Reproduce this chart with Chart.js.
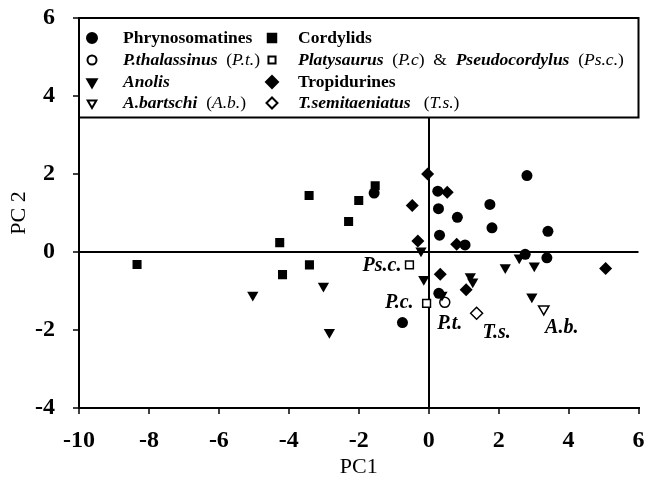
<!DOCTYPE html>
<html>
<head>
<meta charset="utf-8">
<script src="https://cdn.jsdelivr.net/npm/chart.js@4.4.1/dist/chart.umd.min.js"></script>
<style>
  html, body { margin: 0; padding: 0; background: #fff; }
  #wrap { width: 646px; height: 498px; }
</style>
</head>
<body>
<div id="wrap"><canvas id="graficoPCA"></canvas></div>
<script>
// eixos
const xTicks = [-10, -8, -6, -4, -2, 0, 2, 4, 6];
const yTicks = [-4, -2, 0, 2, 4, 6];

// grupos (PC1 / PC2)
const phrynoPC1 = [2.81, -1.56, 0.26, 1.75, 0.28, 0.82, 1.81, 3.41, 0.31, 1.04, 2.76, 3.38, 0.29, -0.75];
const phrynoPC2 = [1.96, 1.51, 1.56, 1.22, 1.11, 0.89, 0.62, 0.53, 0.43, 0.18, -0.06, -0.15, -1.06, -1.81];

const cordylidPC1 = [-1.53, -3.42, -2.0, -2.29, -4.26, -8.34, -3.41, -4.18];
const cordylidPC2 = [1.70, 1.45, 1.32, 0.78, 0.24, -0.32, -0.33, -0.58];

const tropiPC1 = [-0.03, 0.53, -0.47, -0.31, 0.8, 0.33, 5.06, 1.07];
const tropiPC2 = [2.0, 1.53, 1.19, 0.28, 0.2, -0.57, -0.42, -0.97];

const anolisPC1 = [-5.03, -3.01, -2.84, -0.22, -0.14, 1.19, 1.26, 2.19, 2.59, 3.02, 2.95, 0.38];
const anolisPC2 = [-1.10, -0.87, -2.06, 0.03, -0.70, -0.63, -0.76, -0.40, -0.15, -0.35, -1.15, -1.10];

// especies destacadas
const ptPC1 = [0.46];
const ptPC2 = [-1.29];
const platyPC1 = [-0.06, -0.55];
const platyPC2 = [-1.32, -0.33];
const platyLabels = ['P.c.', 'Ps.c.'];
const tsPC1 = [1.37];
const tsPC2 = [-1.57];
const abPC1 = [3.29];
const abPC2 = [-1.46];

const toPoints = (xs, ys) => xs.map((x, i) => ({ x: x, y: ys[i] }));

const SERIF = '"Liberation Serif", "Times New Roman", serif';

// legenda desenhada a mao (fontes mistas)
const legendaPlugin = {
  id: 'legenda',
  afterDraw(chart) {
    const ctx = chart.ctx;
    const xs = chart.scales.x, ys = chart.scales.y;
    const left = xs.left, right = xs.right;
    const top = ys.getPixelForValue(6);
    const bottom = ys.getPixelForValue(3.45);
    ctx.save();
    ctx.fillStyle = '#fff';
    ctx.fillRect(left + 1, top, right - left, bottom - top);
    ctx.strokeStyle = '#000';
    ctx.lineWidth = 2;
    ctx.beginPath();
    ctx.moveTo(left, top); ctx.lineTo(right, top);
    ctx.lineTo(right, bottom); ctx.lineTo(left, bottom);
    ctx.stroke();

    const B = 'bold 17.5px ' + SERIF, BI = 'italic bold 17.5px ' + SERIF;
    const I = 'italic 17.5px ' + SERIF, R = '17.5px ' + SERIF;
    const rows = [
      [{ pointStyle: 'circle', radius: 5, fill: '#000' }, [['Phrynosomatines', B]]],
      [{ pointStyle: 'circle', radius: 4.5, fill: '#fff' }, [['P.thalassinus', BI], ['  (', R], ['P.t.', I], [')', R]]],
      [{ pointStyle: 'triangle', radius: 5.5, rotation: 180, fill: '#000' }, [['Anolis', BI]]],
      [{ pointStyle: 'triangle', radius: 5, rotation: 180, fill: '#fff' }, [['A.bartschi', BI], ['  (', R], ['A.b.', I], [')', R]]],
      [{ pointStyle: 'rect', radius: 6, fill: '#000' }, [['Cordylids', B]]],
      [{ pointStyle: 'rect', radius: 5, fill: '#fff' }, [['Platysaurus', BI], ['  (', R], ['P.c', I], [')', R], ['  &  ', R], ['Pseudocordylus', BI], ['  (', R], ['Ps.c.', I], [')', R]]],
      [{ pointStyle: 'rectRot', radius: 6, fill: '#000' }, [['Tropidurines', B]]],
      [{ pointStyle: 'rectRot', radius: 5.5, fill: '#fff' }, [['T.semitaeniatus', BI], ['   (', R], ['T.s.', I], [')', R]]]
    ];
    const rowY = [38, 60, 82, 103];
    const colMarker = [left + 13, left + 193];
    const colText = [left + 44, left + 219];
    ctx.textBaseline = 'middle';
    rows.forEach((r, i) => {
      const col = Math.floor(i / 4), y = rowY[i % 4];
      ctx.fillStyle = r[0].fill;
      ctx.strokeStyle = '#000';
      Chart.helpers.drawPoint(ctx, { pointStyle: r[0].pointStyle, radius: r[0].radius, rotation: r[0].rotation || 0, borderWidth: 1.3 }, colMarker[col], y);
      let x = colText[col];
      ctx.fillStyle = '#000';
      r[1].forEach(seg => {
        ctx.font = seg[1];
        ctx.fillText(seg[0], x, y);
        x += ctx.measureText(seg[0]).width;
      });
    });
    ctx.restore();
  }
};

// rotulos das especies destacadas
const rotulosPlugin = {
  id: 'rotulos',
  afterDatasetsDraw(chart) {
    const ctx = chart.ctx;
    ctx.save();
    ctx.font = 'italic bold 20px ' + SERIF;
    ctx.fillStyle = '#000';
    ctx.textBaseline = 'middle';
    const put = (di, pi, text, dx, dy, align) => {
      const p = chart.getDatasetMeta(di).data[pi];
      ctx.textAlign = align;
      ctx.fillText(text, p.x + dx, p.y + dy);
    };
    put(5, 0, platyLabels[0], -13, -1, 'right');
    put(5, 1, platyLabels[1], -8, 1, 'right');
    put(4, 0, 'P.t.', 5, 22, 'center');
    put(6, 0, 'T.s.', 20, 20, 'center');
    put(7, 0, 'A.b.', 18, 19, 'center');
    ctx.restore();
  }
};

const zeroLine = ctx => (ctx.tick && ctx.tick.value === 0) ? '#000' : 'rgba(0,0,0,0)';

// tira o recuo automatico das escalas, para a area do grafico ficar fixa
const semRecuo = s => {
  s.paddingTop = 0; s.paddingBottom = 0; s.paddingLeft = 0; s.paddingRight = 0;
};

new Chart(document.getElementById('graficoPCA').getContext('2d'), {
  type: 'scatter',
  data: {
    datasets: [
      { label: 'Cordylids', data: toPoints(cordylidPC1, cordylidPC2), pointStyle: 'rect', radius: 6.4, backgroundColor: '#000', borderColor: '#000', borderWidth: 0 },
      { label: 'Anolis', data: toPoints(anolisPC1, anolisPC2), pointStyle: 'triangle', rotation: 180, radius: 6.5, backgroundColor: '#000', borderColor: '#000', borderWidth: 0 },
      { label: 'Tropidurines', data: toPoints(tropiPC1, tropiPC2), pointStyle: 'rectRot', radius: 6.5, backgroundColor: '#000', borderColor: '#000', borderWidth: 0 },
      { label: 'Phrynosomatines', data: toPoints(phrynoPC1, phrynoPC2), pointStyle: 'circle', radius: 5.5, backgroundColor: '#000', borderColor: '#000', borderWidth: 0 },
      { label: 'P.thalassinus', data: toPoints(ptPC1, ptPC2), pointStyle: 'circle', radius: 5, backgroundColor: '#fff', borderColor: '#000', borderWidth: 1.5 },
      { label: 'Platysaurus & Pseudocordylus', data: toPoints(platyPC1, platyPC2), pointStyle: 'rect', radius: 5.5, backgroundColor: '#fff', borderColor: '#000', borderWidth: 1.5 },
      { label: 'T.semitaeniatus', data: toPoints(tsPC1, tsPC2), pointStyle: 'rectRot', radius: 6, backgroundColor: '#fff', borderColor: '#000', borderWidth: 1.5 },
      { label: 'A.bartschi', data: toPoints(abPC1, abPC2), pointStyle: 'triangle', rotation: 180, radius: 6, backgroundColor: '#fff', borderColor: '#000', borderWidth: 1.5 }
    ]
  },
  options: {
    responsive: true,
    maintainAspectRatio: false,
    animation: false,
    layout: { padding: { top: 18, right: 7, bottom: 0, left: 0 } },
    plugins: { legend: { display: false }, tooltip: { enabled: false } },
    scales: {
      x: {
        type: 'linear',
        min: xTicks[0], max: xTicks[xTicks.length - 1],
        afterBuildTicks: s => { s.ticks = xTicks.map(v => ({ value: v })); },
        afterFit: s => { s.height = 90; semRecuo(s); },
        border: { display: true, color: '#000', width: 2 },
        grid: { color: zeroLine, lineWidth: 2, tickColor: '#000', tickWidth: 1.5, tickLength: 6 },
        ticks: { color: '#000', padding: 12, maxRotation: 0, font: { family: SERIF, size: 24, weight: 'bold' } },
        title: { display: true, text: 'PC1', color: '#000', padding: { top: 4, bottom: 18 }, font: { family: SERIF, size: 22 } }
      },
      y: {
        type: 'linear',
        min: yTicks[0], max: yTicks[yTicks.length - 1],
        afterBuildTicks: s => { s.ticks = yTicks.map(v => ({ value: v })); },
        afterFit: s => { s.width = 79; semRecuo(s); },
        border: { display: true, color: '#000', width: 2 },
        grid: { color: zeroLine, lineWidth: 2, tickColor: '#000', tickWidth: 1.5, tickLength: 6 },
        ticks: { color: '#000', padding: 18, font: { family: SERIF, size: 24, weight: 'bold' } },
        title: { display: true, text: 'PC 2', color: '#000', padding: { top: 6, bottom: 0 }, font: { family: SERIF, size: 22 } }
      }
    }
  },
  plugins: [rotulosPlugin, legendaPlugin]
});
</script>
</body>
</html>
